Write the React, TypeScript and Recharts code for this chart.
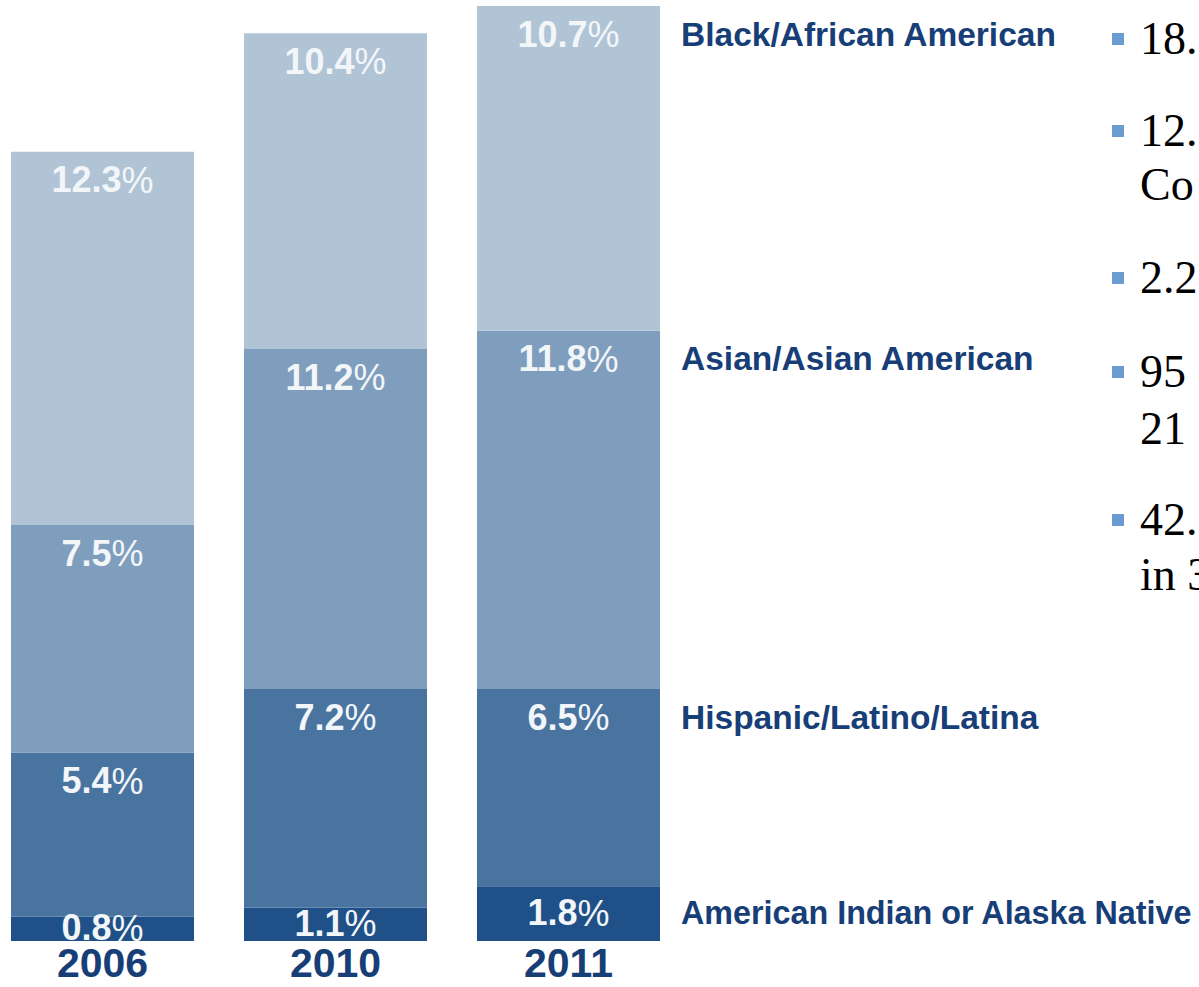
import React from 'react';
import { BarChart, Bar, XAxis, YAxis, LabelList } from 'recharts';

const years = ['2006', '2010', '2011'];
const americanIndian = [0.8, 1.1, 1.8];
const hispanic = [5.4, 7.2, 6.5];
const asian = [7.5, 11.2, 11.8];
const black = [12.3, 10.4, 10.7];

const seriesNames = {
  americanIndian: 'American Indian or Alaska Native',
  hispanic: 'Hispanic/Latino/Latina',
  asian: 'Asian/Asian American',
  black: 'Black/African American',
};

const bulletLines = [
  { bullet: true, text: '18.' },
  { bullet: true, text: '12.' },
  { bullet: false, text: 'Co' },
  { bullet: true, text: '2.2' },
  { bullet: true, text: '95' },
  { bullet: false, text: '21' },
  { bullet: true, text: '42.' },
  { bullet: false, text: 'in 3' },
];
const bulletCenters = [39, 131, 185, 278, 372, 429, 520, 575];

const data = years.map((y, i) => ({
  year: y,
  americanIndian: americanIndian[i],
  hispanic: hispanic[i],
  asian: asian[i],
  black: black[i],
}));

const NAVY = '#173e76';

const makeLabel = (key: string, centered: boolean) => (props: any) => {
  const { x, y, width, height, value, index } = props;
  const cx = Number(x) + Number(width) / 2;
  const cy = centered ? Number(y) + Number(height) / 2 - 1 : Number(y) + 28;
  return (
    <g>
      <text
        x={cx}
        y={cy}
        textAnchor="middle"
        dominantBaseline="central"
        fill="#f3f6f9"
        fontFamily="'Liberation Sans', Arial, sans-serif"
        fontSize={36}
        fontWeight="bold"
      >
        {Number(value).toFixed(1)}
        <tspan fontWeight="normal">%</tspan>
      </text>
      {index === 2 ? (
        <text
          x={Number(x) + Number(width) + 21}
          y={cy}
          textAnchor="start"
          dominantBaseline="central"
          fill={NAVY}
          fontFamily="'Liberation Sans', Arial, sans-serif"
          fontSize={key === 'americanIndian' ? 32.3 : 33.5}
          fontWeight="bold"
        >
          {(seriesNames as any)[key]}
        </text>
      ) : null}
    </g>
  );
};

const YearTick = (props: any) => {
  const { x, payload } = props;
  return (
    <text
      x={x}
      y={963}
      textAnchor="middle"
      dominantBaseline="central"
      fill={NAVY}
      fontFamily="'Liberation Sans', Arial, sans-serif"
      fontSize={41}
      fontWeight="bold"
    >
      {payload.value}
    </text>
  );
};

export default function App() {
  return (
    <div
      style={{
        position: 'absolute',
        left: 0,
        top: 0,
        width: 1199,
        height: 987,
        overflow: 'hidden',
        background: '#ffffff',
      }}
    >
      <div style={{ position: 'absolute', left: -14, top: 0 }}>
        <BarChart
          width={1213}
          height={987}
          data={data}
          margin={{ top: 6, right: 514, bottom: 0, left: 0 }}
        >
          <XAxis
            dataKey="year"
            axisLine={false}
            tickLine={false}
            height={46}
            tick={<YearTick />}
            interval={0}
          />
          <YAxis hide domain={[0, 30.8]} />
          <Bar dataKey="americanIndian" stackId="a" fill="#1f5088" barSize={183} isAnimationActive={false}>
            <LabelList dataKey="americanIndian" content={makeLabel('americanIndian', true)} />
          </Bar>
          <Bar dataKey="hispanic" stackId="a" fill="#4a74a0" barSize={183} isAnimationActive={false}>
            <LabelList dataKey="hispanic" content={makeLabel('hispanic', false)} />
          </Bar>
          <Bar dataKey="asian" stackId="a" fill="#7f9ebd" barSize={183} isAnimationActive={false}>
            <LabelList dataKey="asian" content={makeLabel('asian', false)} />
          </Bar>
          <Bar dataKey="black" stackId="a" fill="#b0c4d6" barSize={183} isAnimationActive={false}>
            <LabelList dataKey="black" content={makeLabel('black', false)} />
          </Bar>
        </BarChart>
      </div>
      {bulletLines.map((line, i) => (
        <React.Fragment key={i}>
          {line.bullet ? (
            <div
              style={{
                position: 'absolute',
                left: 1112,
                top: bulletCenters[i] - 6,
                width: 12,
                height: 12,
                background: '#6a9bd1',
              }}
            />
          ) : null}
          <div
            style={{
              position: 'absolute',
              left: 1140,
              top: bulletCenters[i] - 30,
              height: 60,
              lineHeight: '60px',
              fontFamily: "'Liberation Serif', 'Times New Roman', serif",
              fontSize: 46,
              color: '#000000',
              whiteSpace: 'nowrap',
            }}
          >
            {line.text}
          </div>
        </React.Fragment>
      ))}
    </div>
  );
}
